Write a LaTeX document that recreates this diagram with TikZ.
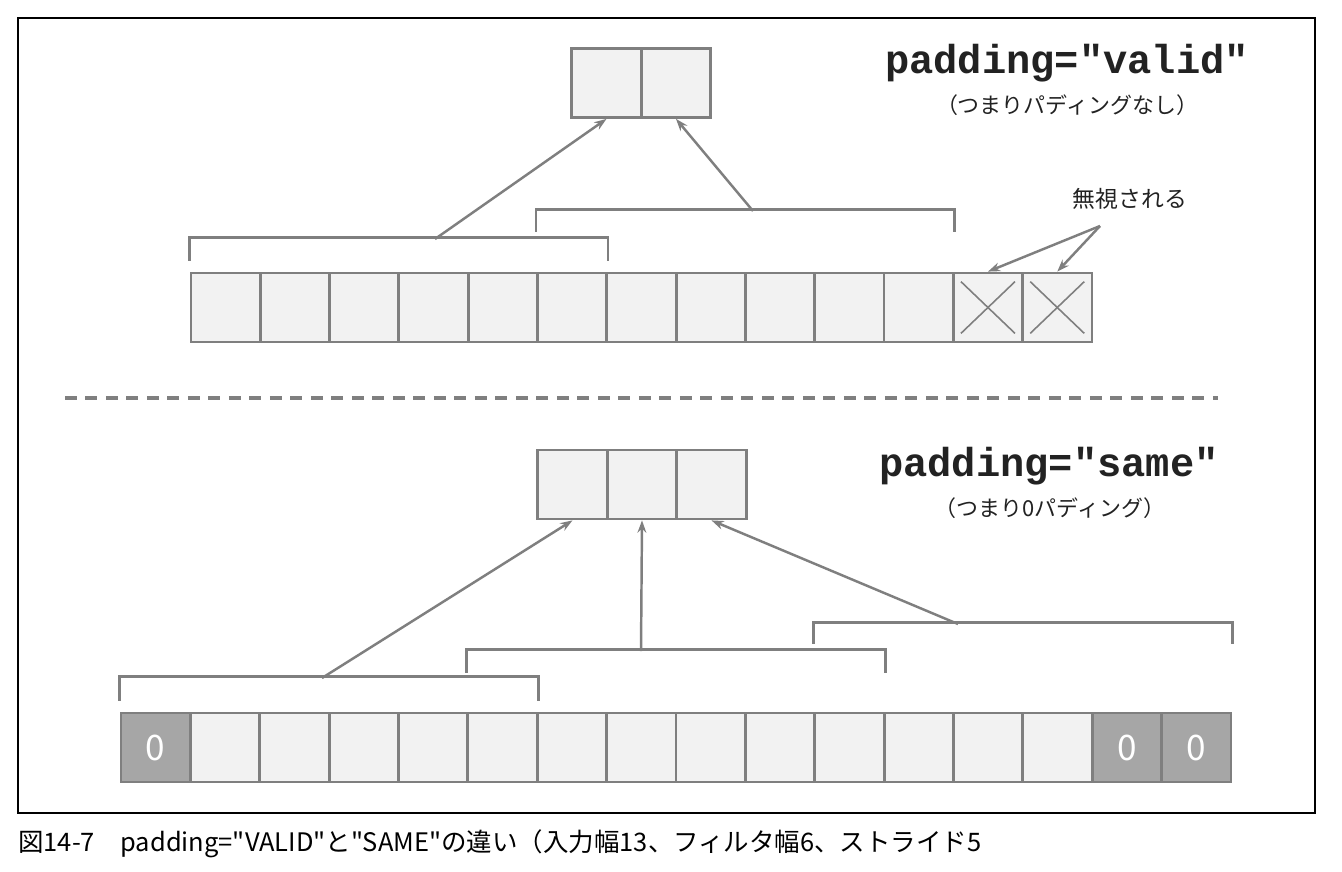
\documentclass[tikz,border=0pt]{standalone}
\usepackage{fontspec}
\setmonofont{Liberation Mono}
\newfontfamily\jp{Noto Sans CJK JP}
\usetikzlibrary{arrows.meta}
\definecolor{linegray}{HTML}{7F7F7F}
\definecolor{cellgray}{HTML}{F2F2F2}
\definecolor{padgray}{HTML}{A6A6A6}
\definecolor{textgray}{HTML}{222222}

\begin{document}
\begin{tikzpicture}[x=0.02cm,y=-0.02cm]
  \useasboundingbox (0,0) rectangle (1342,872);
  \draw[line width=0.8pt] (18,18) rectangle (1315,813);

  \begin{scope}[every node/.style={draw=linegray, fill=cellgray, line width=1.6pt,
      minimum width=1.386cm, minimum height=1.38cm, inner sep=0pt},
      pad/.style={fill=padgray, text=white, font=\jp\fontsize{20}{20}\selectfont}]
    % valid
    \foreach \i in {1,...,13}
      \node (v\i) at ({191+69.3*(\i-0.5)},307.5) {};
    \node (vo1) at (606.5,83) {};
    \node (vo2) at (676,83) {};
    % same
    \node[pad] (s1) at ({121+69.375*0.5},747.5) {0};
    \foreach \i in {2,...,14}
      \node (s\i) at ({121+69.375*(\i-0.5)},747.5) {};
    \foreach \i in {15,16}
      \node[pad] (s\i) at ({121+69.375*(\i-0.5)},747.5) {0};
    \node (so1) at (572.5,484.5) {};
    \node (so2) at (642,484.5) {};
    \node (so3) at (711.5,484.5) {};
  \end{scope}

  % ignored cells
  \foreach \i in {12,13} {
    \draw[linegray, line width=0.9pt] ([shift={(0.18cm,-0.2cm)}]v\i.north west) -- ([shift={(-0.18cm,0.2cm)}]v\i.south east);
    \draw[linegray, line width=0.9pt] ([shift={(-0.18cm,-0.2cm)}]v\i.north east) -- ([shift={(0.18cm,0.2cm)}]v\i.south west);
  }

  \begin{scope}[every path/.style={draw=linegray, line width=1.4pt}]
    % brackets
    \draw ([yshift=.22cm]v1.north west) |- ([yshift=.68cm]v6.north east) -- ([yshift=.22cm]v6.north east);
    \draw ([yshift=.8cm]v6.north west) |- ([yshift=1.24cm]v11.north east) -- ([yshift=.8cm]v11.north east);
    \draw ([yshift=.22cm]s1.north west) |- ([yshift=.7cm]s6.north east) -- ([yshift=.22cm]s6.north east);
    \draw ([yshift=.78cm]s6.north west) |- ([yshift=1.24cm]s11.north east) -- ([yshift=.78cm]s11.north east);
    \draw ([yshift=1.36cm]s11.north west) |- ([yshift=1.78cm]s16.north east) -- ([yshift=1.36cm]s16.north east);

    \coordinate (vb1) at (435,239);
    \coordinate (vb2) at (753,211);
    \coordinate (sb1) at (322,678);
    \coordinate (sb2) at (641,651);
    \coordinate (sb3) at (958,624);
    \coordinate (ig) at (1100,226);

    \begin{scope}[-{Stealth[open, length=7pt, width=5pt]}]
      \draw (vb1) -- (vo1.south);
      \draw (vb2) -- (vo2.south);
      \draw (sb1) -- (so1.south);
      \draw (sb2) -- (so2.south);
      \draw (sb3) -- (so3.south);
      \draw (ig) -- (v12.north);
      \draw (ig) -- (v13.north);
    \end{scope}

    \draw[line width=1.8pt, dash pattern=on 0.24cm off 0.17cm] (65,398) -- (1218,398);
  \end{scope}

  % labels
  \node[font=\ttfamily\bfseries\fontsize{23}{23}\selectfont, text=textgray] (vtitle) at (1067,63) {padding="valid"};
  \node[font=\jp\fontsize{12.5}{12.5}\selectfont, text=textgray] (vsub) at (1067,105) {（つまりパディングなし）};
  \node[font=\jp\fontsize{13}{13}\selectfont, text=textgray] (ign) at (1130,199) {無視される};
  \node[font=\ttfamily\bfseries\fontsize{23}{23}\selectfont, text=textgray] (stitle) at (1049,466) {padding="same"};
  \node[font=\jp\fontsize{12.5}{12.5}\selectfont, text=textgray] (ssub) at (1050,508) {（つまり0パディング）};

  \node[anchor=base west, inner sep=0pt, font=\jp\fontsize{14.5}{14.5}\selectfont] (cap) at (18,851)
    {図14-7\hspace{1em}padding="VALID"と"SAME"の違い（入力幅13、フィルタ幅6、ストライド5};
\end{tikzpicture}
\end{document}
